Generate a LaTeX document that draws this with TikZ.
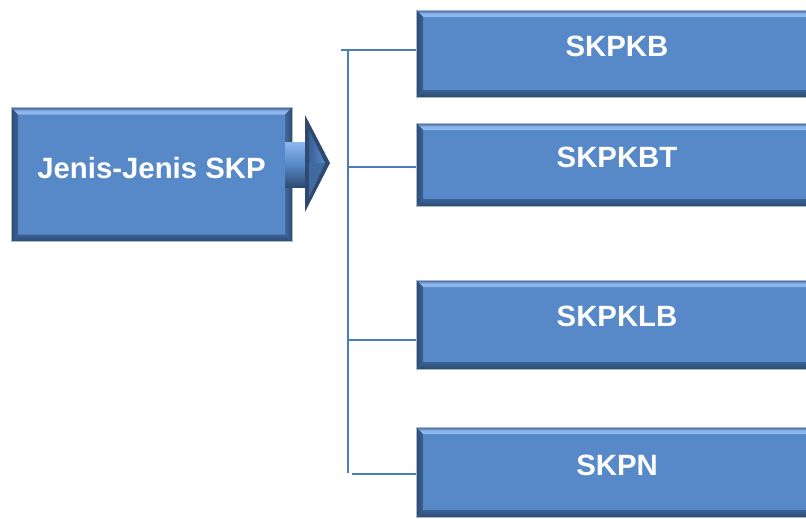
\documentclass[tikz,border=0pt]{standalone}
\usepackage{fontspec}
\setmainfont{Liberation Sans}
\usetikzlibrary{calc}
\definecolor{boxfill}{HTML}{5789C8}
\definecolor{bevtop}{HTML}{8DB6EC}
\definecolor{bevleft}{HTML}{3A6096}
\definecolor{bevbottom}{HTML}{2E4A70}
\definecolor{bevright}{HTML}{416A9E}
\definecolor{edgeline}{HTML}{A9B8CC}
\definecolor{wire}{HTML}{4A7EBB}
\tikzset{
  bevelbox/.style={
    draw=edgeline, line width=0.6pt, fill=boxfill, inner sep=0pt,
    path picture={
      \path (path picture bounding box.south west) coordinate (pSW)
            (path picture bounding box.north east) coordinate (pNE);
      \path (pSW |- pNE) coordinate (pNW) (pNE |- pSW) coordinate (pSE);
      % top face
      \shade[top color=bevleft, bottom color=bevtop, middle color=bevtop]
        (pNW) -- (pNE) -- ($(pNE)+(-7,7)$) -- ($(pNW)+(7,7)$) -- cycle;
      % left face
      \shade[left color=bevbottom, right color=bevleft]
        (pNW) -- ($(pNW)+(7,7)$) -- ($(pSW)+(7,-7)$) -- (pSW) -- cycle;
      % bottom face
      \shade[top color=bevleft, bottom color=bevbottom]
        (pSW) -- (pSE) -- ($(pSE)+(-7,-7)$) -- ($(pSW)+(7,-7)$) -- cycle;
      % right face
      \shade[left color=bevright, right color=bevbottom]
        (pNE) -- ($(pNE)+(-7,7)$) -- ($(pSE)+(-7,-7)$) -- (pSE) -- cycle;
    }},
  boxtext/.style={text=white, font=\fontsize{22}{26}\selectfont\bfseries},
  wireline/.style={draw=wire, line width=1.2pt},
}
\begin{document}
\begin{tikzpicture}[x=0.75pt, y=-0.75pt]
\useasboundingbox (0,0) rectangle (806,518);

% main box
\node[bevelbox, minimum width={281*0.75pt}, minimum height={134*0.75pt},
      label={[boxtext, yshift=5pt]center:Jenis-Jenis SKP}] (main) at (151.5,174.5) {};

% block arrow
\shade[top color=bevtop, bottom color=bevbottom, middle color=boxfill]
  (285,142) rectangle (312,187);
\fill[bevbottom] (305,115) -- (330,163) -- (305,212) -- cycle;
\shade[left color=bevleft, right color=boxfill]
  (309,130) -- (325,163) -- (309,197) -- cycle;
\fill[bevright] (309,163) -- (325,163) -- (309,197) -- cycle;

% target boxes
\node[bevelbox, minimum width={402*0.75pt}, minimum height={87*0.75pt},
      label={[boxtext, yshift=5pt]center:SKPKB}] (b1) at (617,53.5) {};
\node[bevelbox, minimum width={402*0.75pt}, minimum height={83*0.75pt},
      label={[boxtext, yshift=5pt]center:SKPKBT}] (b2) at (617,164.5) {};
\node[bevelbox, minimum width={402*0.75pt}, minimum height={89*0.75pt},
      label={[boxtext, yshift=6pt]center:SKPKLB}] (b3) at (617,324.5) {};
\node[bevelbox, minimum width={402*0.75pt}, minimum height={90*0.75pt},
      label={[boxtext, yshift=5pt]center:SKPN}] (b4) at (617,472) {};

% bracket connectors
\coordinate (stub) at (341,50);
\coordinate (j1) at (348,50);
\coordinate (j2) at (348,167);
\coordinate (j3) at (348,340);
\coordinate (j4) at (348,473);
\coordinate (j4s) at (352,474);
\draw[wireline] (j1) -- (j4);
\draw[wireline] (stub) -- (b1.west |- stub);
\draw[wireline] (j2) -- (b2.west |- j2);
\draw[wireline] (j3) -- (b3.west |- j3);
\draw[wireline] (j4s) -- (b4.west |- j4s);
\end{tikzpicture}
\end{document}
